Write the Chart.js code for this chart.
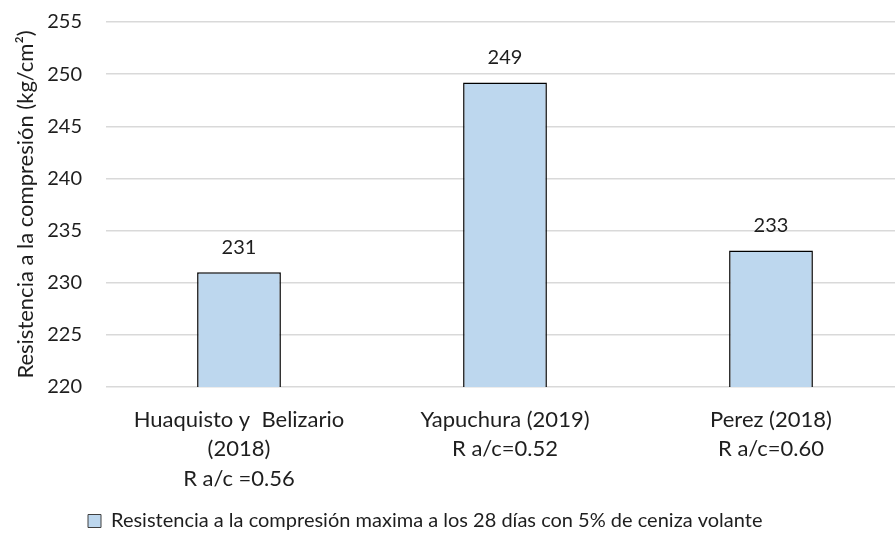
<!DOCTYPE html>
<html>
<head>
<meta charset="utf-8">
<script src="https://cdn.jsdelivr.net/npm/chart.js@4"></script>
<style>
    body { margin: 0; overflow: hidden; background: #fff; }
    #wrap { width: 904px; height: 541px; }
</style>
</head>
<body>
<div id="wrap"><canvas id="myChart"></canvas></div>
<script>
const categories = [
    ["Huaquisto y  Belizario", "(2018)", "R a/c =0.56"],
    ["Yapuchura (2019)", "R a/c=0.52"],
    ["Perez (2018)", "R a/c=0.60"]
];
const resistencia = [231.0, 249.2, 233.1];
const seriesName = "Resistencia a la compresión maxima a los 28 días con 5% de ceniza volante";
const yTitle = "Resistencia a la compresión (kg/cm²)";

const FONT = "Lato, 'Open Sans', sans-serif";
const TEXT = "#1e1e1e";

// value labels above the bars
const valueLabels = {
    id: "valueLabels",
    afterDatasetsDraw(chart) {
        const ctx = chart.ctx;
        const meta = chart.getDatasetMeta(0);
        ctx.save();
        ctx.font = "20px " + FONT;
        ctx.fillStyle = TEXT;
        ctx.textAlign = "center";
        ctx.textBaseline = "middle";
        meta.data.forEach(function(bar, i) {
            ctx.fillText(Math.round(resistencia[i]), bar.x, bar.y - 25);
        });
        ctx.restore();
    }
};

// move the legend so it sits where the original one is
const legendShift = {
    id: "legendShift",
    afterLayout(chart) {
        chart.legend.left = 86;
    }
};

let chart;

function initChart() {
    const ctx = document.getElementById("myChart").getContext("2d");
    chart = new Chart(ctx, {
        type: "bar",
        data: {
            labels: categories,
            datasets: [{
                label: seriesName,
                data: resistencia,
                backgroundColor: "#BDD7EE",
                borderColor: "#000000",
                borderWidth: 1.5,
                categoryPercentage: 1,
                barPercentage: 0.315
            }]
        },
        options: {
            responsive: true,
            maintainAspectRatio: false,
            animation: false,
            layout: { padding: { top: 22, left: 6, right: 0, bottom: 0 } },
            scales: {
                x: {
                    grid: { display: false },
                    border: { display: false },
                    ticks: {
                        color: TEXT,
                        font: { family: FONT, size: 22, lineHeight: 1.34 },
                        padding: 10,
                        maxRotation: 0
                    },
                    afterFit: function(scale) {
                        scale.paddingLeft = 0;
                        scale.paddingRight = 0;
                        scale.height = 154 - scale.chart.legend.height;
                    }
                },
                y: {
                    min: 220,
                    max: 255,
                    ticks: {
                        stepSize: 5,
                        color: TEXT,
                        font: { family: FONT, size: 20 },
                        padding: 24
                    },
                    grid: { color: "#d9d9d9", lineWidth: 1.5, drawTicks: false },
                    border: { display: false },
                    title: {
                        display: true,
                        text: yTitle,
                        color: TEXT,
                        font: { family: FONT, size: 22 },
                        padding: { top: 7, bottom: 0 }
                    },
                    afterFit: function(scale) {
                        scale.width = 100;
                        scale.paddingTop = 0;
                        scale.paddingBottom = 0;
                    }
                }
            },
            plugins: {
                legend: {
                    position: "bottom",
                    align: "start",
                    labels: {
                        color: TEXT,
                        font: { family: FONT, size: 20 },
                        boxWidth: 13,
                        boxHeight: 13,
                        padding: 2,
                        generateLabels: function(c) {
                            return [{
                                text: seriesName,
                                fillStyle: "#BDD7EE",
                                strokeStyle: "#404040",
                                lineWidth: 1,
                                fontColor: TEXT,
                                datasetIndex: 0
                            }];
                        }
                    }
                },
                tooltip: { enabled: false }
            }
        },
        plugins: [valueLabels, legendShift]
    });
}

document.addEventListener("DOMContentLoaded", function() {
    initChart();
});
</script>
</body>
</html>
